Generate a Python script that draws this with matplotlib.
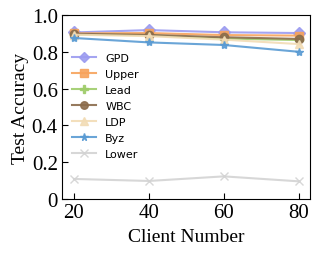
import matplotlib
matplotlib.use("Agg")
import matplotlib.pyplot as plt

clients = [20, 40, 60, 80]
gpd = [0.905, 0.918, 0.906, 0.902]
upper = [0.900, 0.902, 0.891, 0.888]
lead = [0.895, 0.890, 0.872, 0.864]
wbc = [0.898, 0.892, 0.879, 0.870]
ldp = [0.893, 0.885, 0.866, 0.842]
byz = [0.875, 0.851, 0.837, 0.800]
lower = [0.109, 0.098, 0.123, 0.096]

series = [
    ("GPD", gpd, "#9b9bf0", "D"),
    ("Upper", upper, "#f7a35c", "s"),
    ("Lead", lead, "#9fcc6a", "P"),
    ("WBC", wbc, "#8b6c4c", "o"),
    ("LDP", ldp, "#f2dcb5", "^"),
    ("Byz", byz, "#5a9bd3", "*"),
    ("Lower", lower, "#d3d3d3", "x"),
]

fig = plt.figure(figsize=(3.19, 2.55), dpi=100)
ax = fig.add_axes([62/319, 1 - 200/255, (310-62)/319, (200-16)/255])

for name, vals, color, mk in series:
    ax.plot(clients, vals, color=color, marker=mk, markersize=6, linewidth=1.5,
            label=name, alpha=0.9)

ax.set_xlim(16.8, 83)
ax.set_ylim(0, 1.0)
ax.set_xticks([20, 40, 60, 80])
ax.set_yticks([0, 0.2, 0.4, 0.6, 0.8, 1.0])
ax.set_yticklabels(["0", "0.2", "0.4", "0.6", "0.8", "1.0"])
ax.tick_params(direction="in", labelsize=15, length=4, pad=3)
for lab in ax.get_xticklabels() + ax.get_yticklabels():
    lab.set_family("Liberation Serif")
ax.set_xlabel("Client Number", family="Liberation Serif", fontsize=14, labelpad=4)
ax.set_ylabel("Test Accuracy", family="Liberation Serif", fontsize=14, labelpad=2)

ax.legend(loc="upper left", bbox_to_anchor=(0.0, 0.85), frameon=False,
          fontsize=8, handlelength=2.2, labelspacing=0.55, markerscale=0.9)

fig.savefig("out.png", dpi=100)
